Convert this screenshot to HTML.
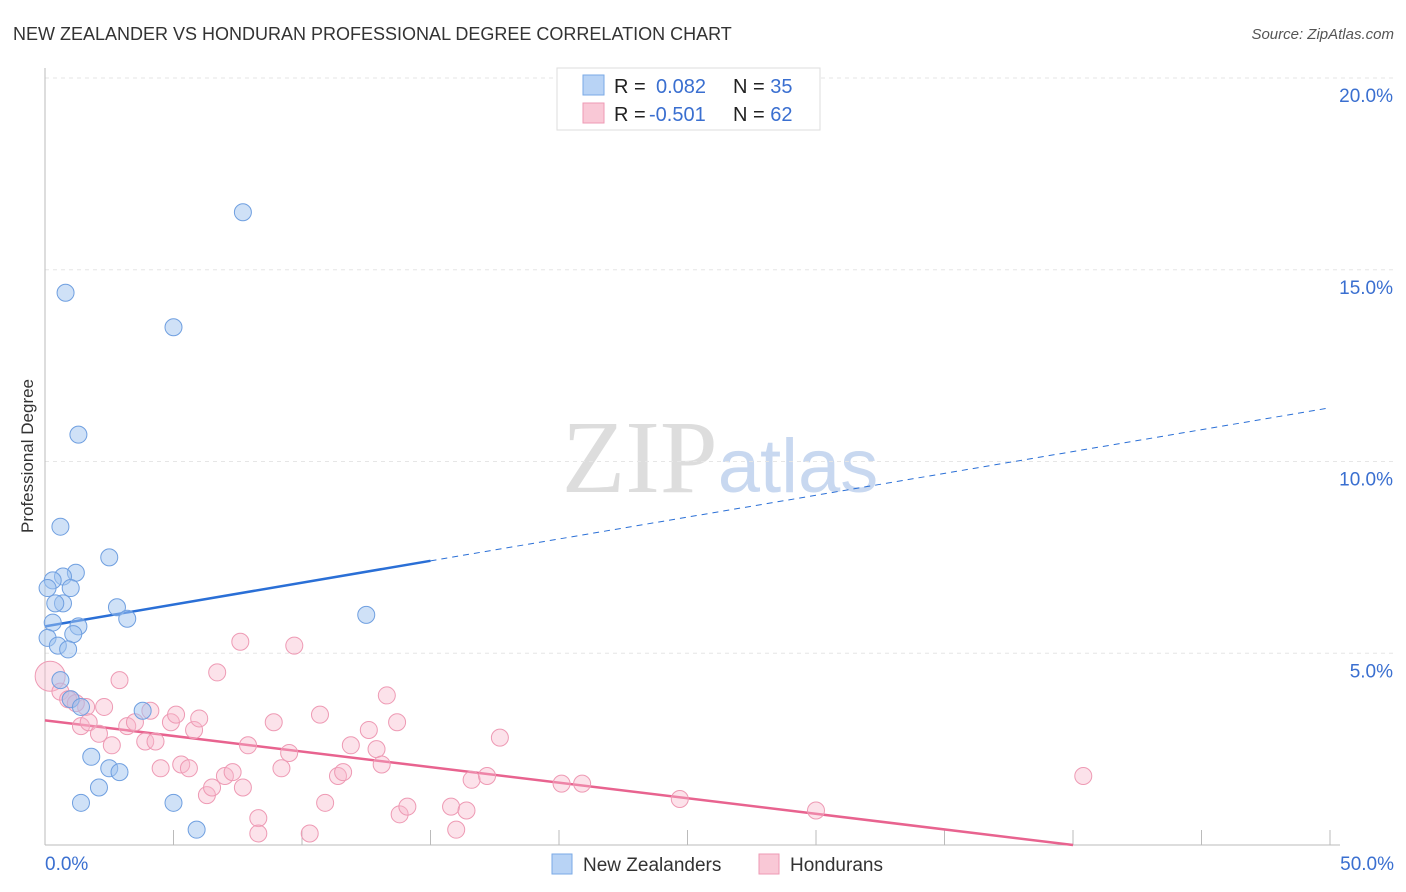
<!DOCTYPE html>
<html><head><meta charset="utf-8">
<style>
body{margin:0;background:#fff;font-family:"Liberation Sans",sans-serif;}
svg{display:block}
</style></head>
<body>
<svg id="chart" width="1406" height="892">
<text x="13" y="40" font-size="18" fill="#333">NEW ZEALANDER VS HONDURAN PROFESSIONAL DEGREE CORRELATION CHART</text>
<text x="1394" y="39" font-size="15" fill="#555" font-style="italic" text-anchor="end">Source: ZipAtlas.com</text>
<text x="33" y="456" font-size="17" fill="#333" transform="rotate(-90 33 456)" text-anchor="middle">Professional Degree</text>
<text x="720" y="492" font-size="104" fill="#ddd" text-anchor="middle" font-family="Liberation Serif,serif">ZIP<tspan fill="#c8d8f0" font-family="Liberation Sans,sans-serif" font-size="76">atlas</tspan></text>
<g id="grid"></g>
<g id="trend"></g>
<g id="pts"></g>
<g>
<rect x="557" y="68" width="263" height="62" fill="#fff" stroke="#ddd"/>
<rect x="583" y="75" width="21" height="20" fill="#b8d3f5" stroke="#7aa9e6"/>
<rect x="583" y="103" width="21" height="20" fill="#f9c8d6" stroke="#ee9ab4"/>
<text x="614" y="93" font-size="20" fill="#222">R =  <tspan fill="#3a6fd0" x="656">0.082</tspan><tspan fill="#222" x="733">N = </tspan><tspan fill="#3a6fd0">35</tspan></text>
<text x="614" y="121" font-size="20" fill="#222">R = <tspan fill="#3a6fd0" x="649">-0.501</tspan><tspan fill="#222" x="733">N = </tspan><tspan fill="#3a6fd0">62</tspan></text>
</g>
<g>
<rect x="552" y="854" width="20" height="20" fill="#b8d3f5" stroke="#7aa9e6"/>
<text x="583" y="871" font-size="19" fill="#333">New Zealanders</text>
<rect x="759" y="854" width="20" height="20" fill="#f9c8d6" stroke="#ee9ab4"/>
<text x="790" y="871" font-size="19" fill="#333">Hondurans</text>
</g>
</svg>
<script>
const yTicks=[5,10,15,20];
const xTickLabels=["0.0%","50.0%"];
const blueX=[7.7,0.8,5.0,1.3,0.6,2.5,1.2,0.7,0.3,0.1,1.0,0.7,0.4,2.8,3.2,12.5,0.3,1.3,1.1,0.1,0.5,0.9,0.6,1.0,1.4,3.8,1.8,2.5,2.9,2.1,1.4,5.0,5.9];
const blueY=[16.5,14.4,13.5,10.7,8.3,7.5,7.1,7.0,6.9,6.7,6.7,6.3,6.3,6.2,5.9,6.0,5.8,5.7,5.5,5.4,5.2,5.1,4.3,3.8,3.6,3.5,2.3,2.0,1.9,1.5,1.1,1.1,0.4];
const pinkX=[0.2,0.6,1.0,1.6,2.3,2.9,1.4,1.7,2.1,2.6,3.2,3.5,3.9,4.1,4.3,4.5,4.9,5.1,5.3,5.6,5.8,6.0,6.3,6.5,6.7,7.0,7.3,7.6,7.7,7.9,8.3,8.3,8.9,9.2,9.5,9.7,10.3,10.7,10.9,11.4,11.6,11.9,12.6,12.9,13.1,13.3,13.7,13.8,14.1,15.8,16.0,16.4,16.6,17.2,17.7,20.1,20.9,24.7,30.0,40.4,0.9,1.2];
const pinkY=[4.4,4.0,3.8,3.6,3.6,4.3,3.1,3.2,2.9,2.6,3.1,3.2,2.7,3.5,2.7,2.0,3.2,3.4,2.1,2.0,3.0,3.3,1.3,1.5,4.5,1.8,1.9,5.3,1.5,2.6,0.7,0.3,3.2,2.0,2.4,5.2,0.3,3.4,1.1,1.8,1.9,2.6,3.0,2.5,2.1,3.9,3.2,0.8,1.0,1.0,0.4,0.9,1.7,1.8,2.8,1.6,1.6,1.2,0.9,1.8,3.8,3.7];
const blueTrend=[5.7,11.4];
const pinkTrend=[3.25,0.0];
const X=v=>45+v*25.7, Y=v=>845-v*38.35;
const ns="http://www.w3.org/2000/svg";
function mk(t,a,p){const e=document.createElementNS(ns,t);for(const k in a)e.setAttribute(k,a[k]);p.appendChild(e);return e;}
const g=document.getElementById('grid');
yTicks.forEach(t=>{
 const l=mk('line',{x1:45,x2:1395,y1:Y(t),y2:Y(t),stroke:'#e6e6e6','stroke-dasharray':'4,4'},g);
 
 
 const tx=mk('text',{x:1393,y:Y(t)+24,'font-size':19,fill:'#3a6fd0','text-anchor':'end'},g);
 tx.textContent=t.toFixed(1)+'%';
 
 
});
const ax=mk('line',{x1:45,x2:45,y1:68,y2:845,stroke:'#bbb'},g);


const xa=mk('line',{x1:45,x2:1340,y1:845,y2:845,stroke:'#bbb'},g);


for(let i=1;i<=10;i++){
 const t=mk('line',{x1:X(i*5),x2:X(i*5),y1:830,y2:845,stroke:'#bbb'},g);
 
 
}
[[0,'start',45],[1,'end',1394]].forEach(([i,a,x])=>{
 const t=mk('text',{x:x,y:870,'font-size':19,fill:'#3a6fd0','text-anchor':a},g);
 t.textContent=xTickLabels[i];
 
 
});
const tr=document.getElementById('trend');
const bm=15, by=v=>blueTrend[0]+(blueTrend[1]-blueTrend[0])*v/50;
const b1=mk('line',{x1:X(0),y1:Y(blueTrend[0]),x2:X(bm),y2:Y(by(bm)),stroke:'#2a6fd6','stroke-width':2.5},tr);


const b2=mk('line',{x1:X(bm),y1:Y(by(bm)),x2:X(50),y2:Y(blueTrend[1]),stroke:'#2a6fd6','stroke-width':1,'stroke-dasharray':'6,5'},tr);


const pend=40;
const p1=mk('line',{x1:X(0),y1:Y(pinkTrend[0]),x2:X(pend),y2:Y(pinkTrend[1]),stroke:'#e8638f','stroke-width':2.5},tr);


const pg=document.getElementById('pts');
pinkX.forEach((x,i)=>{
 const c=mk('circle',{cx:X(x),cy:Y(pinkY[i]),r:i==0?15:8.5,fill:'rgba(247,182,202,0.4)',stroke:'#ee9ab4','stroke-width':1},pg);
 
 
});
blueX.forEach((x,i)=>{
 const c=mk('circle',{cx:X(x),cy:Y(blueY[i]),r:8.5,fill:'rgba(160,196,240,0.5)',stroke:'#6f9fe0','stroke-width':1},pg);
 
 
});
</script>
</body></html>
